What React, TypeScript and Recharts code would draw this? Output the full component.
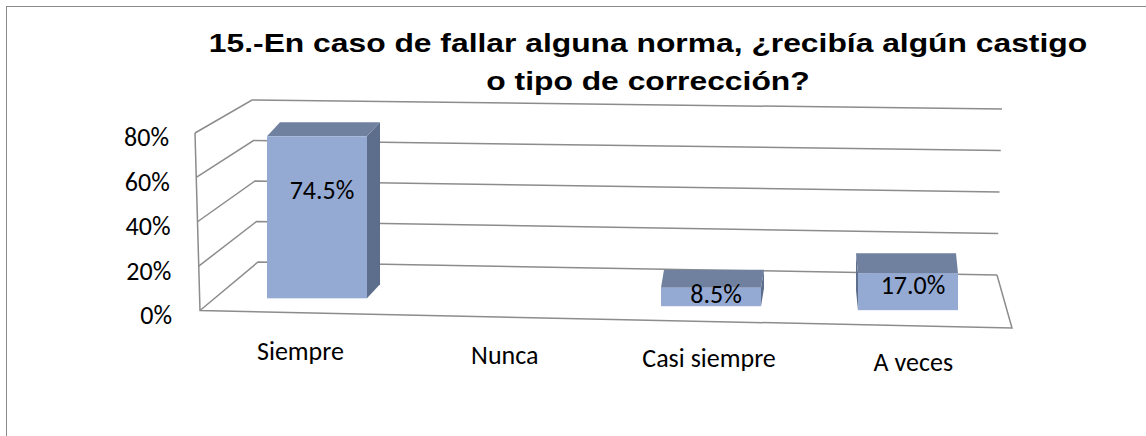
import React from "react";
import { BarChart, Bar, XAxis, YAxis, CartesianGrid, LabelList } from "recharts";

const categorias = ["Siempre", "Nunca", "Casi siempre", "A veces"];
const porcentajes = [0.745, 0, 0.085, 0.17];
const ticksY = [0, 0.2, 0.4, 0.6, 0.8];

const data = categorias.map((c, i) => ({ categoria: c, valor: porcentajes[i] }));

const ANCHO = 1146;
const ALTO = 436;
// area de trazado (sin ejes)
const PLOT = { left: 218, right: 1006, top: 130, bottom: 304 };
const maxY = ticksY[ticksY.length - 1];

const gris = "#8c8c8c";
const fuente = "Carlito, Lato, sans-serif";

// el "suelo" 3D baja un poco hacia la derecha
const inclinacion = (x: number) => 0.02 * (x - 600);

// paredes y suelo en perspectiva, dibujados a partir de cada linea de la cuadricula
const LineaGrid = (props: any) => {
  const { y1, index } = props;
  const t = (PLOT.bottom - y1) / (PLOT.bottom - PLOT.top);
  const fl = [PLOT.left - 18 - 5 * t, 310.5 - 177.5 * t];
  const bl = [PLOT.left + 40 - 6 * t, 262 - 162 * t];
  const br = [PLOT.right - 9 + 5 * t, 275 - 166 * t];
  const esSuelo = t < 0.01;
  return (
    <g key={`grid-${index}`}>
      <polyline
        points={`${fl[0]},${fl[1]} ${bl[0]},${bl[1]} ${br[0]},${br[1]}`}
        fill="none"
        stroke={gris}
        strokeWidth={1.5}
      />
      {esSuelo && (
        <polyline
          points={`${br[0]},${br[1]} ${PLOT.right + 6},328 ${fl[0]},${fl[1]} ${PLOT.left - 23},133`}
          fill="none"
          stroke={gris}
          strokeWidth={1.5}
        />
      )}
    </g>
  );
};

const TickY = ({ payload }: any) => {
  const t = payload.value / maxY;
  return (
    <text
      x={PLOT.left - 46 - 3 * t}
      y={315 - 178 * t}
      textAnchor="end"
      dominantBaseline="central"
      fontFamily={fuente}
      fontSize={26}
      fill="#000"
    >
      {Math.round(payload.value * 100)}%
    </text>
  );
};

const TickX = ({ x, payload }: any) => (
  <text
    x={x - 16 + (x - 317) * 0.037}
    y={351 + (x - 317) * 0.019}
    textAnchor="middle"
    dominantBaseline="central"
    fontFamily={fuente}
    fontSize={26}
    fill="#000"
  >
    {payload.value}
  </text>
);

const Barra3D = (props: any) => {
  const { x, y, width, height } = props;
  if (!height || height <= 0) return null;
  const cx = x + width / 2;
  const s = inclinacion(cx);
  const arriba = y + s;
  const abajo = y + height + s;
  const dx = -0.0254 * (cx - 829);
  const dy = -14 - (cx - 317) * 0.01;
  const der = x + width;
  const lado =
    dx > 0
      ? `${der},${arriba} ${der + dx},${arriba + dy} ${der + dx},${abajo + dy} ${der},${abajo}`
      : `${x},${arriba} ${x + dx},${arriba + dy} ${x + dx},${abajo + dy} ${x},${abajo}`;
  return (
    <g>
      <polygon points={lado} fill="#5d6d8c" />
      <polygon
        points={`${x},${arriba} ${der},${arriba} ${der + dx},${arriba + dy} ${x + dx},${arriba + dy}`}
        fill="#70809f"
      />
      <rect x={x} y={arriba} width={width} height={abajo - arriba} fill="#95aad3" />
    </g>
  );
};

const Etiqueta = (props: any) => {
  const { x, y, width, height, value } = props;
  if (!value) return null;
  const cx = x + width / 2;
  const s = inclinacion(cx);
  return (
    <text
      x={cx + 5}
      y={y + s + height * 0.33}
      textAnchor="middle"
      dominantBaseline="central"
      fontFamily={fuente}
      fontSize={26}
      fill="#000"
    >
      {(value * 100).toFixed(1)}%
    </text>
  );
};

export default function App() {
  return (
    <div
      style={{
        position: "absolute",
        left: 0,
        top: 0,
        width: ANCHO,
        height: ALTO,
        overflow: "hidden",
        background: "#fff",
      }}
    >
      <div
        style={{
          position: "absolute",
          left: 6,
          top: 6,
          width: ANCHO + 20,
          height: ALTO + 20,
          border: "1.5px solid #8a8a8a",
        }}
      />
      <div
        style={{
          position: "absolute",
          left: 148,
          width: 1000,
          top: 24,
          textAlign: "center",
          fontFamily: "'Liberation Sans', Arial, sans-serif",
          fontWeight: "bold",
          fontSize: 26.5,
          lineHeight: "38px",
          color: "#000",
          transform: "scaleX(1.2)",
          transformOrigin: "500px 0",
        }}
      >
        15.-En caso de fallar alguna norma, ¿recibía algún castigo
        <br />o tipo de corrección?
      </div>
      <div style={{ position: "absolute", left: 0, top: 0 }}>
        <BarChart
          width={ANCHO}
          height={ALTO}
          data={data}
          margin={{ top: PLOT.top, right: ANCHO - PLOT.right, left: 0, bottom: 0 }}
        >
          <CartesianGrid vertical={false} horizontal={LineaGrid} />
          <XAxis
            dataKey="categoria"
            axisLine={false}
            tickLine={false}
            height={ALTO - PLOT.bottom}
            tick={TickX}
            interval={0}
          />
          <YAxis
            domain={[0, maxY]}
            ticks={ticksY}
            axisLine={false}
            tickLine={false}
            width={PLOT.left}
            tick={TickY}
          />
          <Bar dataKey="valor" barSize={100} shape={Barra3D} isAnimationActive={false}>
            <LabelList dataKey="valor" content={Etiqueta} />
          </Bar>
        </BarChart>
      </div>
    </div>
  );
}
